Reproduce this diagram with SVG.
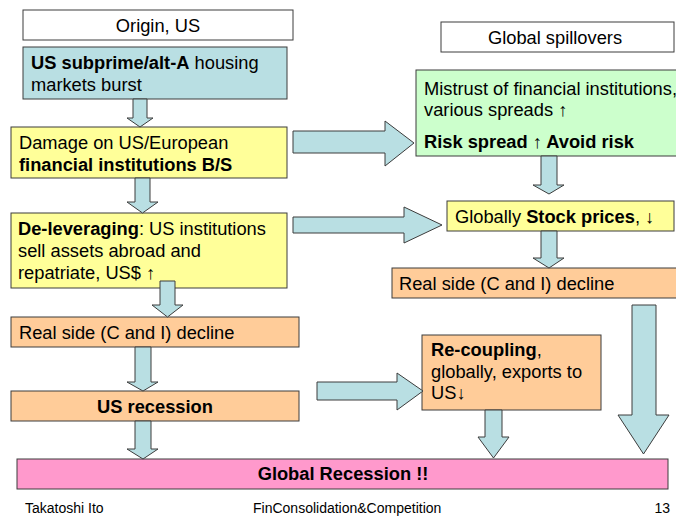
<svg xmlns="http://www.w3.org/2000/svg" width="676" height="518" viewBox="0 0 676 518">
<style>
text{font-family:"Liberation Sans",Arial,sans-serif;font-size:18.3px;fill:#000}
.b{font-weight:bold}
.box{stroke:#3c3c3c;stroke-width:1}
.w{fill:#fff}.t{fill:#b9dfe3}.y{fill:#ffff99}.o{fill:#ffcc99}.g{fill:#ccffcc}.p{fill:#ff99cc}
.ar{fill:#b9dfe3;stroke:#3c3c3c;stroke-width:1;stroke-linejoin:miter}
.ft{font-size:14px}
</style>
<rect width="676" height="518" fill="#fff"/>
<g id="origin"><rect class="box w" x="23" y="10" width="270" height="30"/><text x="158" y="32" text-anchor="middle">Origin, US</text></g>
<g id="spill"><rect class="box w" x="441" y="22" width="233" height="30"/><text x="555" y="44" text-anchor="middle">Global spillovers</text></g>
<g id="subprime"><rect class="box t" x="23" y="47" width="264" height="52"/><text x="31" y="69"><tspan class="b">US subprime/alt-A</tspan> housing</text><text x="31" y="91">markets burst</text></g>
<g id="damage"><rect class="box y" x="11" y="127" width="276" height="51"/><text x="19" y="149">Damage on US/European</text><text class="b" x="19" y="171">financial institutions B/S</text></g>
<g id="mistrust"><rect class="box g" x="416" y="70" width="262" height="86"/><text x="424" y="95">Mistrust of financial institutions,</text><text x="424" y="116">various spreads ↑</text><text class="b" x="424" y="148">Risk spread ↑ Avoid risk</text></g>
<g id="delev"><rect class="box y" x="11" y="213" width="276" height="75"/><text x="18" y="235"><tspan class="b">De-leveraging</tspan>: US institutions</text><text x="18" y="257">sell assets abroad and</text><text x="18" y="279">repatriate, US$ ↑</text></g>
<g id="stock"><rect class="box y" x="447" y="201" width="227" height="30"/><text x="455" y="223">Globally <tspan class="b">Stock prices</tspan>, ↓</text></g>
<g id="real2"><rect class="box o" x="392" y="268" width="286" height="30"/><text x="399" y="290">Real side (C and I) decline</text></g>
<g id="real1"><rect class="box o" x="11" y="317" width="288" height="30"/><text x="19" y="339">Real side (C and I) decline</text></g>
<g id="recouple"><rect class="box o" x="422" y="335" width="179" height="75"/><text x="431" y="356"><tspan class="b">Re-coupling</tspan>,</text><text x="431" y="378">globally, exports to</text><text x="431" y="399">US↓</text></g>
<g id="usrec"><rect class="box o" x="11" y="391" width="288" height="30"/><text class="b" x="155" y="413" text-anchor="middle">US recession</text></g>
<g id="global"><rect class="box p" x="17" y="459" width="651" height="30"/><text class="b" x="343" y="480" text-anchor="middle">Global Recession !!</text></g>
<g id="connectors">
<polygon class="ar" points="133,99 147,99 147,118 153,118 140,127 127,118 133,118"/>
<polygon class="ar" points="135,178 150,178 150,202 158,202 142.5,213 127,202 135,202"/>
<polygon class="ar" points="160,281 175,281 175,305 183,305 167.5,317 152,305 160,305"/>
<polygon class="ar" points="135,347 151,347 151,382 158,382 143,391 127,382 135,382"/>
<polygon class="ar" points="135,421 151,421 151,449 158,449 143,459 127,449 135,449"/>
<polygon class="ar" points="293,131 385,131 385,121 414,143 385,166 385,153 293,153"/>
<polygon class="ar" points="293,217 404,217 404,207 442,225 404,243 404,233 293,233"/>
<polygon class="ar" points="317,382 397,382 397,373 423,391 397,410 397,400 317,400"/>
<polygon class="ar" points="541,156 557,156 557,185 564,185 549,194 533,185 541,185"/>
<polygon class="ar" points="541,231 557,231 557,258 564,258 549,268 533,258 541,258"/>
<polygon class="ar" points="485,410 502,410 502,437 509,437 493.5,458 478,437 485,437"/>
<polygon class="ar" points="632,305 656,305 656,415 669,415 643.5,454 618,415 632,415"/>
</g>
<g id="footer">
<text class="ft" x="25" y="513">Takatoshi Ito</text>
<text class="ft" x="253" y="513">FinConsolidation&amp;Competition</text>
<text class="ft" x="670" y="513" text-anchor="end">13</text>
</g>
</svg>
